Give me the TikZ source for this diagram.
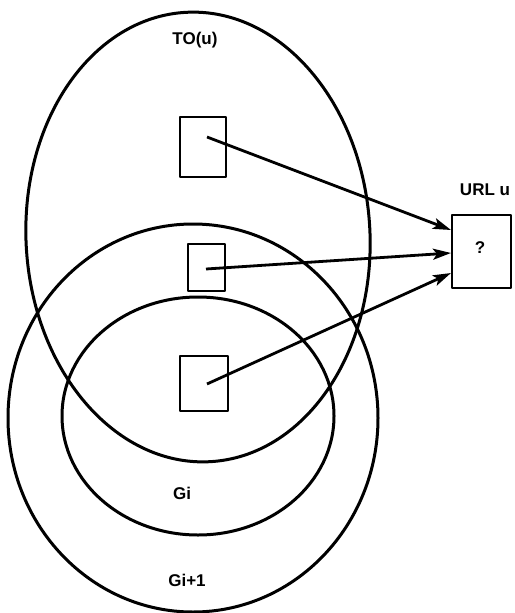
\documentclass[tikz,border=0pt]{standalone}
\usepackage{fontspec}
\setmainfont{Liberation Sans}
\usetikzlibrary{arrows.meta}
\begin{document}
\begin{tikzpicture}[x=1pt, y=-1pt, line join=round,
  ring/.style={line width=3pt},
  box/.style={draw, line width=2.6pt, inner sep=0pt},
  lbl/.style={font=\fontsize{17}{17}\selectfont\bfseries, inner sep=0pt},
  link/.style={line width=2.8pt, -{Stealth[length=18pt, width=11pt, inset=4pt]}}]
\useasboundingbox (0,0) rectangle (514,613);

% the three regions
\draw[ring, rotate around={3:(198,237)}] (198,237) ellipse [x radius=172pt, y radius=225pt];
\draw[ring] (193,418) ellipse [x radius=185pt, y radius=194pt];
\draw[ring] (198,416) ellipse [x radius=136pt, y radius=119pt];

% region labels
\node[lbl] (tou) at (195,40) {TO(u)};
\node[lbl] (gi) at (182,493) {Gi};
\node[lbl] (gii) at (187,580) {Gi+1};

% pages and the target URL
\node[box, minimum width=46pt, minimum height=60pt] (p1) at (203,147) {};
\node[box, minimum width=37pt, minimum height=47pt] (p2) at (206.5,267.5) {};
\node[box, minimum width=48pt, minimum height=55pt] (p3) at (204,383.5) {};
\node[box, minimum width=59pt, minimum height=73pt] (url) at (481.5,251.5) {};
\node[lbl] (q) at (480,248) {?};
\node[lbl] (urllbl) at (485,190) {URL u};

% link anchors
\coordinate (s1) at (207,137);
\coordinate (s2) at (206,269);
\coordinate (s3) at (207,384);
\coordinate (e1) at (451,230);
\coordinate (e2) at (451,253);
\coordinate (e3) at (451,273);

\draw[link] (s1) -- (e1);
\draw[link] (s2) -- (e2);
\draw[link] (s3) -- (e3);
\end{tikzpicture}
\end{document}
